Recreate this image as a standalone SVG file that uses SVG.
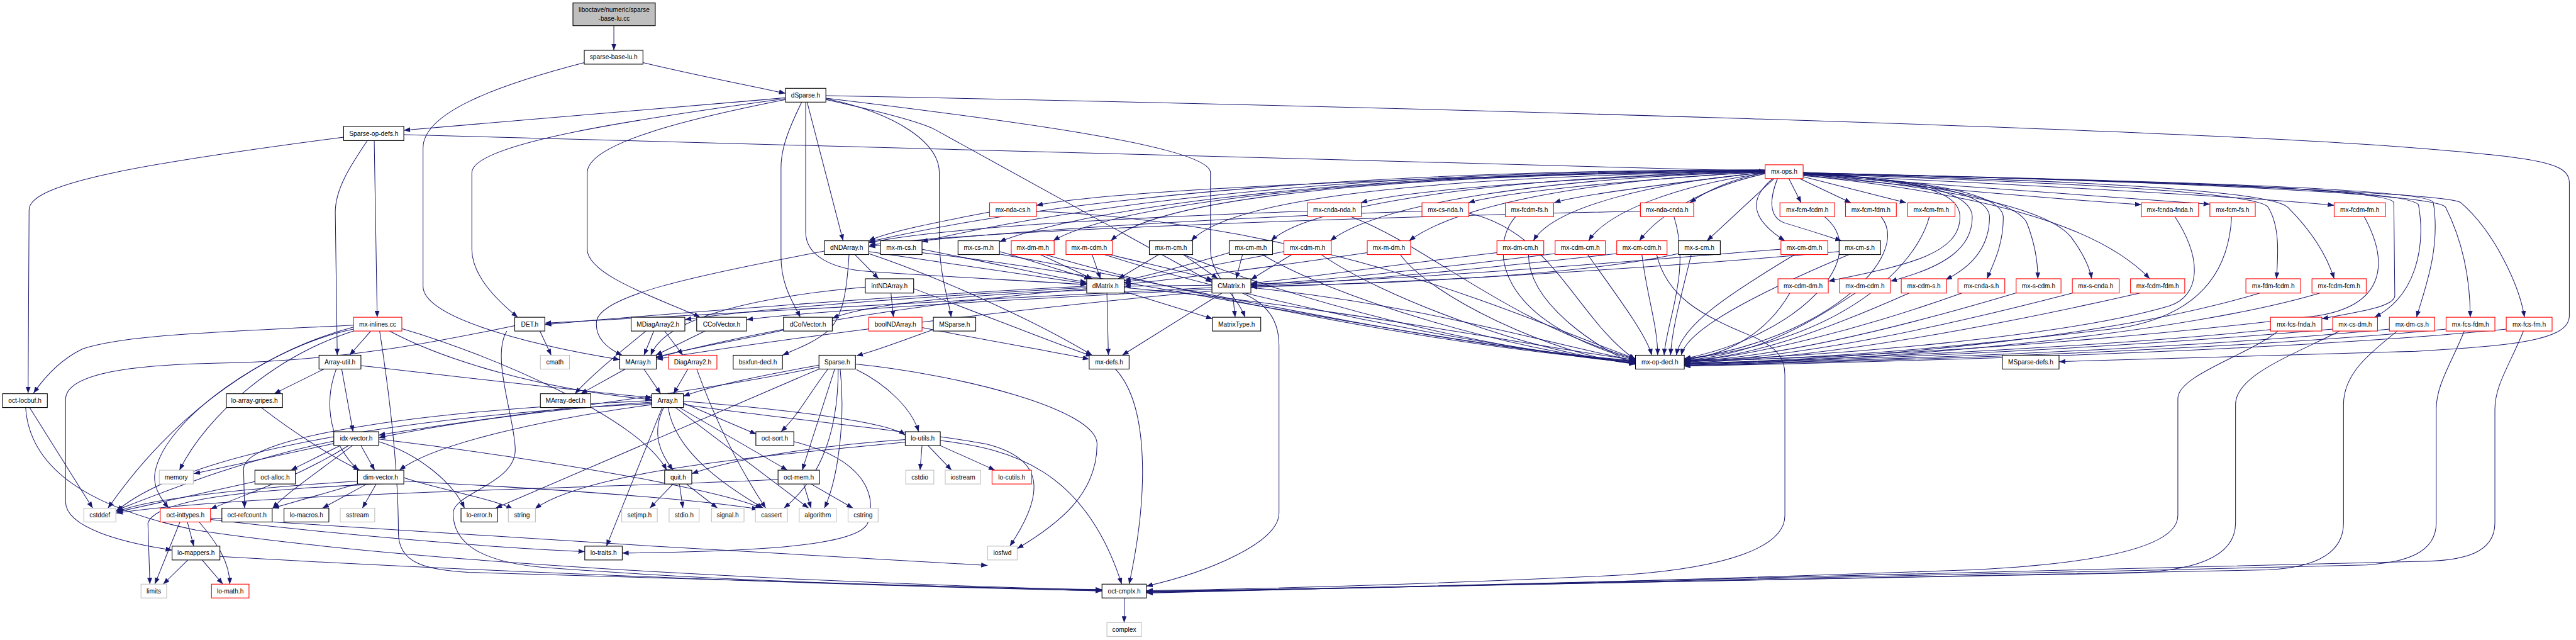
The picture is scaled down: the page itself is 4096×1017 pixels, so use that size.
<svg xmlns="http://www.w3.org/2000/svg" width="4096" height="1017" viewBox="0 0 4096 1017">
<defs>
<marker id="a" markerUnits="userSpaceOnUse" markerWidth="14" markerHeight="10" refX="13" refY="5" orient="auto"><path d="M0,0 L13,5 L0,10 z" fill="#191970"/></marker>
<style>
.n rect{fill:#fff;stroke:#000;stroke-width:1.4}
.r rect{fill:#fff;stroke:#ff0000;stroke-width:1.4}
.g rect{fill:#fff;stroke:#bfbfbf;stroke-width:1.4}
.root rect{fill:#bfbfbf;stroke:#000;stroke-width:1.4}
text{font-family:"Liberation Sans",Arial,sans-serif;font-size:13px;text-anchor:middle;fill:#000}
#edges path{fill:none;stroke:#191970;stroke-width:1.3;marker-end:url(#a)}
</style>
</defs>
<rect width="4096" height="1017" fill="#fff"/>
<g transform="scale(0.784)">
<g id="edges">
<path d="M1245,52 L1245,102"/>
<path d="M1304,127 C1400,150 1500,170 1593,189"/>
<path d="M1185,127 C1000,175 858,230 858,300 L858,580 C858,640 1050,695 1257,729"/>
<path d="M1593,198 C1300,225 1000,250 819,264"/>
<path d="M819,273 L3580,347"/>
<path d="M1675,194 C2800,215 4400,260 4900,300 C5150,320 5211,330 5211,370 L5211,640 C5211,690 5100,700 4900,712 L4176,733"/>
<path d="M1593,200 C1300,240 957,290 957,350 L957,505 C957,560 1010,610 1050,643"/>
<path d="M1593,202 C1400,240 1191,290 1191,350 L1191,505 C1191,560 1350,610 1420,643"/>
<path d="M1626,207 C1600,260 1584,300 1584,340 L1584,520 C1584,580 1610,615 1623,643"/>
<path d="M1637,207 L1710,488"/>
<path d="M1634,207 L1634,470 C1634,520 1690,545 1760,550 C1900,560 2100,570 2204,577"/>
<path d="M1675,202 C1780,225 1860,245 1895,262 L2458,572"/>
<path d="M1675,200 C1820,230 1905,290 1905,350 L1905,480 C1905,560 1925,610 1929,643"/>
<path d="M1675,199 C2100,250 2455,300 2455,350 L2455,505 C2455,560 2510,600 2525,643"/>
<path d="M697,278 C300,330 59,370 59,425 L57,797"/>
<path d="M745,285 C715,330 680,380 680,430 L684,720"/>
<path d="M759,285 L765,643"/>
<path d="M717,659 C400,675 250,680 168,707 C120,730 90,765 68,797"/>
<path d="M717,663 C500,720 330,870 219,1030"/>
<path d="M717,667 C550,700 330,850 314,960 C310,990 330,1015 342,1030"/>
<path d="M720,670 C560,720 420,840 364,953"/>
<path d="M752,671 L709,720"/>
<path d="M770,671 C790,800 808,950 808,1080 C808,1140 860,1155 950,1160 C1500,1180 2000,1190 2235,1198"/>
<path d="M790,671 C900,730 1100,790 1322,810"/>
<path d="M815,666 C1000,720 1300,850 1352,953"/>
<path d="M657,748 L556,798"/>
<path d="M682,748 C655,820 670,900 727,953"/>
<path d="M693,748 L716,875"/>
<path d="M732,741 C900,760 1150,790 1322,806"/>
<path d="M530,826 C600,880 680,930 730,953"/>
<path d="M60,826 L188,1030"/>
<path d="M52,826 C60,950 180,1030 400,1075 C900,1150 1800,1185 2235,1196"/>
<path d="M1095,671 L1118,720"/>
<path d="M1044,660 C900,690 700,732 443,736 C250,740 133,760 133,810 L133,1017 C133,1070 250,1100 349,1115"/>
<path d="M1028,671 C995,724 1045,850 1045,912 C1045,980 919,1000 919,1040 C919,1100 972,1138 1100,1150 C1500,1180 1900,1190 2235,1195"/>
<path d="M1348,671 L1385,720"/>
<path d="M1326,671 L1306,720"/>
<path d="M1310,671 C1250,720 1200,760 1166,798"/>
<path d="M1430,671 L1330,720"/>
<path d="M1589,669 C1500,690 1400,705 1331,724"/>
<path d="M1306,748 L1340,798"/>
<path d="M1268,748 L1178,798"/>
<path d="M1395,748 L1366,798"/>
<path d="M1413,748 C1450,850 1500,950 1553,1030"/>
<path d="M1661,740 C1550,760 1450,780 1386,803"/>
<path d="M1679,748 C1640,800 1620,840 1584,875"/>
<path d="M1693,748 L1627,953"/>
<path d="M1704,748 C1715,850 1700,970 1672,1030"/>
<path d="M1700,748 C1700,900 1650,980 1590,1030"/>
<path d="M1661,748 L1005,1030"/>
<path d="M1737,749 C1800,780 1850,830 1863,875"/>
<path d="M1735,738 C1950,760 2225,830 2225,900 C2225,1000 2150,1060 2063,1112"/>
<path d="M1661,744 C1400,800 950,850 768,882"/>
<path d="M1893,668 C1830,690 1780,710 1737,721"/>
<path d="M1386,817 L1534,880"/>
<path d="M1346,826 C1320,880 1340,920 1365,953"/>
<path d="M1378,826 L1597,953"/>
<path d="M1343,826 L1230,1107"/>
<path d="M1355,826 C1370,920 1480,990 1548,1030"/>
<path d="M1370,826 L1640,1030"/>
<path d="M1386,813 C1600,830 1800,855 1836,882"/>
<path d="M1386,820 C1600,850 1900,880 2000,900 C2120,930 2120,1000 2048,1107"/>
<path d="M1322,815 C1100,830 900,860 768,887"/>
<path d="M1322,820 C1100,850 880,900 810,953"/>
<path d="M1322,818 C900,840 400,900 236,1036"/>
<path d="M1322,812 C900,830 494,880 494,950 L496,1030"/>
<path d="M1610,895 C1750,930 1780,1000 1760,1060 C1740,1110 1500,1118 1262,1121"/>
<path d="M1365,981 L1318,1030"/>
<path d="M1378,981 L1385,1030"/>
<path d="M1392,981 L1455,1030"/>
<path d="M1630,981 L1645,1030"/>
<path d="M1645,981 L1730,1030"/>
<path d="M1578,972 C1200,990 500,1000 236,1040"/>
<path d="M1870,903 L1866,953"/>
<path d="M1882,903 L1930,953"/>
<path d="M1900,900 L2018,953"/>
<path d="M1907,893 C2050,910 2200,950 2275,1184"/>
<path d="M1836,891 C1700,900 1500,925 1403,960"/>
<path d="M1836,896 C1600,920 1200,950 1085,1031"/>
<path d="M2262,748 C2330,820 2330,1000 2290,1184"/>
<path d="M2280,1212 L2280,1262"/>
<path d="M677,899 L393,960"/>
<path d="M690,903 L590,953"/>
<path d="M732,903 L760,953"/>
<path d="M707,903 C600,970 500,1000 427,1032"/>
<path d="M715,903 C640,960 580,1000 553,1030"/>
<path d="M677,894 C500,930 350,990 236,1034"/>
<path d="M768,895 C850,920 920,980 942,1030"/>
<path d="M768,890 C1100,930 1450,990 1545,1030"/>
<path d="M725,975 C500,990 300,1010 236,1038"/>
<path d="M724,981 L553,1030"/>
<path d="M744,981 L654,1030"/>
<path d="M763,981 L735,1030"/>
<path d="M819,978 C600,990 320,1000 300,1060 L304,1184"/>
<path d="M819,968 C880,990 1000,1010 1040,1032"/>
<path d="M819,975 C1100,990 1400,1010 1538,1032"/>
<path d="M517,976 L236,1038"/>
<path d="M380,1058 L393,1107"/>
<path d="M365,1058 L314,1184"/>
<path d="M404,1058 C440,1100 466,1140 466,1184"/>
<path d="M427,1053 C700,1085 1000,1110 1186,1118"/>
<path d="M427,1050 C900,1080 1500,1120 2003,1146"/>
<path d="M381,1135 L331,1184"/>
<path d="M410,1135 L452,1184"/>
<path d="M446,1128 C1000,1160 1800,1190 2235,1197"/>
<path d="M1734,516 L1782,565"/>
<path d="M1762,510 C1900,530 2100,560 2204,575"/>
<path d="M1672,509 C1400,560 1220,600 1210,650 C1205,690 1240,710 1262,720"/>
<path d="M1762,514 C1900,560 2100,650 2215,720"/>
<path d="M1722,516 C1718,580 1712,640 1680,670 C1650,695 1620,705 1587,720"/>
<path d="M1807,594 L1812,643"/>
<path d="M1755,582 C1550,600 1350,640 1320,720"/>
<path d="M1853,585 C2000,640 2150,700 2215,722"/>
<path d="M1870,664 C2000,690 2150,715 2209,728"/>
<path d="M2245,594 L2248,720"/>
<path d="M2280,591 L2459,646"/>
<path d="M2204,580 C1800,600 1300,640 1105,658"/>
<path d="M2204,585 C1800,620 1500,680 1331,725"/>
<path d="M2280,583 C2700,620 3100,700 3317,730"/>
<path d="M2204,588 C1900,600 1750,620 1688,645"/>
<path d="M2204,583 C1800,605 1500,630 1389,648"/>
<path d="M2478,594 L2276,720"/>
<path d="M2500,594 L2505,643"/>
<path d="M2458,583 C2000,605 1400,640 1105,655"/>
<path d="M2458,586 C2000,610 1650,630 1514,648"/>
<path d="M2458,590 C2000,630 1500,700 1331,728"/>
<path d="M2520,594 C2580,620 2594,660 2594,700 L2594,1040 C2594,1100 2450,1160 2325,1188"/>
<path d="M2537,583 C2900,620 3150,700 3317,731"/>
<path d="M2458,578 L2280,580"/>
<path d="M3580,350 C3500,365 3450,395 3427,411"/>
<path d="M3580,349 C3400,370 3200,395 3152,411"/>
<path d="M3580,348 C3300,365 3050,390 2978,411"/>
<path d="M3580,347 C3200,360 2850,385 2760,411"/>
<path d="M3580,346 C3000,355 2300,380 2102,416"/>
<path d="M3598,362 L3462,488"/>
<path d="M3580,352 C3450,380 3360,440 3325,488"/>
<path d="M3580,351 C3400,375 3260,430 3222,488"/>
<path d="M3580,350 C3350,370 3150,420 3110,488"/>
<path d="M3580,349 C3200,365 2950,420 2858,488"/>
<path d="M3580,348 C3150,360 2800,410 2698,488"/>
<path d="M3580,347 C3000,360 2650,420 2578,488"/>
<path d="M3580,347 C2900,358 2500,400 2416,488"/>
<path d="M3580,346 C2800,355 2350,400 2253,488"/>
<path d="M3580,346 C2700,352 2250,420 2136,488"/>
<path d="M3580,345 C2600,350 2150,440 2027,490"/>
<path d="M3580,345 C2500,345 2000,460 1869,490"/>
<path d="M3580,344 C2400,345 1900,460 1762,490"/>
<path d="M3628,362 L3653,411"/>
<path d="M3650,362 L3754,411"/>
<path d="M3657,358 L3866,411"/>
<path d="M3595,362 C3550,400 3545,440 3620,488"/>
<path d="M3605,362 C3590,400 3585,440 3620,452 C3680,470 3710,480 3735,488"/>
<path d="M3657,352 C3900,370 4080,400 4110,450 C4130,500 4133,540 4133,565"/>
<path d="M3657,353 C3950,380 4150,420 4200,480 C4230,520 4240,550 4242,565"/>
<path d="M3657,352 C3900,365 4060,390 4063,440 C4063,500 4040,540 4030,565"/>
<path d="M3657,351 C3900,365 4035,390 4035,440 C4035,500 4000,540 3946,567"/>
<path d="M3657,350 C3900,365 4000,390 4000,440 C4000,500 3950,540 3834,570"/>
<path d="M3657,349 C3880,365 3975,385 3975,440 C3975,520 3850,540 3708,570"/>
<path d="M3657,355 C4000,390 4200,405 4343,415"/>
<path d="M3657,354 C4000,380 4300,400 4482,414"/>
<path d="M3657,353 C4100,375 4500,395 4734,416"/>
<path d="M3657,356 C4000,390 4250,450 4360,565"/>
<path d="M3657,352 C4200,370 4580,390 4600,420 C4625,460 4620,520 4617,565"/>
<path d="M3657,352 C4200,365 4600,385 4640,420 C4690,470 4720,520 4734,565"/>
<path d="M3657,351 C4300,365 4840,380 4855,410 L4857,600 C4855,620 4800,630 4709,646"/>
<path d="M3657,351 C4300,365 4880,380 4905,415 C4920,500 4900,600 4816,643"/>
<path d="M3657,350 C4300,365 4920,380 4935,410 C4950,500 4920,580 4901,643"/>
<path d="M3657,350 C4300,365 4940,390 4960,420 C5000,500 5010,580 5010,643"/>
<path d="M3657,350 C4300,365 4950,390 4990,410 C5060,470 5110,580 5120,643"/>
<path d="M2102,428 C2700,455 3100,650 3317,727"/>
<path d="M2740,439 C2900,500 3050,650 3317,728"/>
<path d="M2979,432 C3150,470 3200,650 3317,729"/>
<path d="M3074,439 C3020,500 3030,650 3317,730"/>
<path d="M1869,512 C2300,560 2900,700 3317,731"/>
<path d="M2027,515 C2400,580 2900,700 3317,732"/>
<path d="M2120,516 C2400,600 2950,705 3317,733"/>
<path d="M2240,516 C2500,600 3000,705 3317,734"/>
<path d="M2400,516 C2600,600 3000,710 3317,735"/>
<path d="M2560,516 C2700,600 3050,710 3317,736"/>
<path d="M2680,516 C2800,600 3100,715 3317,737"/>
<path d="M2840,516 C2900,600 3150,720 3317,738"/>
<path d="M3100,516 C3100,620 3250,710 3317,739"/>
<path d="M3220,516 C3280,600 3340,680 3350,720"/>
<path d="M3330,516 C3340,600 3362,660 3362,720"/>
<path d="M3395,439 C3430,550 3380,650 3375,720"/>
<path d="M3430,516 C3410,600 3392,660 3388,720"/>
<path d="M3640,516 C3500,600 3410,660 3400,720"/>
<path d="M3750,516 C3550,600 3420,670 3410,720"/>
<path d="M3630,594 C3580,680 3500,720 3416,729"/>
<path d="M3763,594 C3650,670 3550,720 3416,730"/>
<path d="M3872,594 C3700,670 3550,725 3416,731"/>
<path d="M3979,594 C3780,665 3550,725 3416,732"/>
<path d="M4088,594 C3850,665 3600,725 3416,733"/>
<path d="M4203,594 C3930,665 3650,725 3416,734"/>
<path d="M4340,594 C4050,660 3700,728 3416,735"/>
<path d="M4583,594 C4300,680 3800,730 3416,736"/>
<path d="M4705,594 C4450,670 3900,730 3416,737"/>
<path d="M4605,668 C4300,700 3800,725 3416,738"/>
<path d="M4731,667 C4300,705 3800,728 3416,739"/>
<path d="M4846,667 C4400,710 3800,730 3416,740"/>
<path d="M4961,667 C4500,712 3800,732 3416,741"/>
<path d="M5083,667 C4600,715 3800,734 3416,742"/>
<path d="M3700,439 C3800,520 3650,680 3416,727"/>
<path d="M3815,439 C3880,520 3700,690 3416,728"/>
<path d="M3913,439 C3890,530 3750,690 3416,728"/>
<path d="M4411,439 C4470,530 4460,600 4400,620 C4200,680 3700,725 3416,730"/>
<path d="M4526,439 C4520,560 4450,640 4300,665 C4000,700 3700,730 3416,731"/>
<path d="M4795,439 C4850,540 4830,620 4700,640 C4300,690 3800,725 3416,732"/>
<path d="M1869,505 C2000,530 2150,565 2204,572"/>
<path d="M2027,510 C2100,530 2170,555 2212,565"/>
<path d="M2110,516 L2215,565"/>
<path d="M2215,516 L2232,565"/>
<path d="M2250,516 C2350,540 2420,555 2460,568"/>
<path d="M2350,516 L2268,565"/>
<path d="M2400,516 L2470,565"/>
<path d="M2520,516 L2507,565"/>
<path d="M2493,512 C2400,540 2320,560 2280,569"/>
<path d="M2604,510 C2450,540 2330,562 2280,573"/>
<path d="M2620,516 C2580,540 2555,555 2537,567"/>
<path d="M2773,512 C2550,545 2350,570 2280,576"/>
<path d="M3036,512 C2800,540 2600,570 2537,574"/>
<path d="M3154,514 C2900,545 2650,572 2537,577"/>
<path d="M3279,514 C3000,545 2700,575 2537,579"/>
<path d="M3404,514 C3200,560 2800,576 2537,580"/>
<path d="M3730,510 C3400,540 2900,572 2537,582"/>
<path d="M3612,505 C3300,530 2900,565 2537,576"/>
<path d="M2007,430 C1900,450 1800,470 1762,488"/>
<path d="M2652,428 C2300,440 1900,462 1762,492"/>
<path d="M3327,428 C2800,440 2000,465 1762,497"/>
<path d="M2884,428 C2500,440 2000,470 1762,500"/>
<path d="M4620,671 C4560,720 4417,760 4417,808 L4417,1045 C4417,1100 4300,1140 4000,1155 C3300,1180 2700,1195 2325,1198"/>
<path d="M4745,671 C4650,720 4534,760 4534,820 L4534,1060 C4534,1130 4450,1160 4300,1162 C3500,1180 2700,1195 2325,1199"/>
<path d="M4862,671 C4800,720 4753,760 4753,820 L4753,1060 C4753,1120 4700,1150 4600,1155 C3600,1180 2700,1195 2325,1200"/>
<path d="M4998,671 C4970,740 4941,780 4941,830 L4941,1060 C4941,1120 4880,1140 4800,1145 C3800,1170 2700,1195 2325,1201"/>
<path d="M5118,671 C5090,740 5060,780 5060,830 L5060,1060 C5060,1120 5000,1138 4900,1138 C3800,1165 2700,1195 2325,1202"/>
<path d="M3360,516 C3380,600 3450,640 3550,680 C3610,705 3620,730 3620,760 L3620,1045 C3620,1110 3500,1150 3300,1165 C2900,1185 2500,1195 2325,1197"/>
</g>
<g id="n-root" class="root"><rect x="1162" y="6" width="167" height="46"/><text x="1245.5" y="24">liboctave/numeric/sparse</text><text x="1245.5" y="42">-base-lu.cc</text></g>
<g id="n-sparse-base-lu-h" class="n"><rect x="1185" y="102" width="119" height="28"/><text x="1244.5" y="120.5">sparse-base-lu.h</text></g>
<g id="n-dSparse-h" class="n"><rect x="1593" y="179" width="82" height="28"/><text x="1634" y="197.5">dSparse.h</text></g>
<g id="n-Sparse-op-defs-h" class="n"><rect x="697" y="256" width="122" height="29"/><text x="758" y="275">Sparse-op-defs.h</text></g>
<g id="n-mx-ops-h" class="r"><rect x="3580" y="334" width="77" height="28"/><text x="3618.5" y="352.5">mx-ops.h</text></g>
<g id="n-mx-nda-cs-h" class="r"><rect x="2007" y="411" width="95" height="28"/><text x="2054.5" y="429.5">mx-nda-cs.h</text></g>
<g id="n-mx-cnda-nda-h" class="r"><rect x="2652" y="411" width="109" height="28"/><text x="2706.5" y="429.5">mx-cnda-nda.h</text></g>
<g id="n-mx-cs-nda-h" class="r"><rect x="2884" y="411" width="95" height="28"/><text x="2931.5" y="429.5">mx-cs-nda.h</text></g>
<g id="n-mx-fcdm-fs-h" class="r"><rect x="3053" y="411" width="98" height="28"/><text x="3102" y="429.5">mx-fcdm-fs.h</text></g>
<g id="n-mx-nda-cnda-h" class="r"><rect x="3327" y="411" width="108" height="28"/><text x="3381" y="429.5">mx-nda-cnda.h</text></g>
<g id="n-mx-fcm-fcdm-h" class="r"><rect x="3610" y="411" width="111" height="28"/><text x="3665.5" y="429.5">mx-fcm-fcdm.h</text></g>
<g id="n-mx-fcm-fdm-h" class="r"><rect x="3743" y="411" width="103" height="28"/><text x="3794.5" y="429.5">mx-fcm-fdm.h</text></g>
<g id="n-mx-fcm-fm-h" class="r"><rect x="3869" y="411" width="96" height="28"/><text x="3917" y="429.5">mx-fcm-fm.h</text></g>
<g id="n-mx-fcnda-fnda-h" class="r"><rect x="4343" y="411" width="116" height="28"/><text x="4401" y="429.5">mx-fcnda-fnda.h</text></g>
<g id="n-mx-fcm-fs-h" class="r"><rect x="4482" y="411" width="92" height="28"/><text x="4528" y="429.5">mx-fcm-fs.h</text></g>
<g id="n-mx-fcdm-fm-h" class="r"><rect x="4734" y="411" width="104" height="28"/><text x="4786" y="429.5">mx-fcdm-fm.h</text></g>
<g id="n-dNDArray-h" class="n"><rect x="1672" y="488" width="90" height="28"/><text x="1717" y="506.5">dNDArray.h</text></g>
<g id="n-mx-m-cs-h" class="n"><rect x="1786" y="488" width="84" height="28"/><text x="1828" y="506.5">mx-m-cs.h</text></g>
<g id="n-mx-cs-m-h" class="n"><rect x="1943" y="488" width="84" height="28"/><text x="1985" y="506.5">mx-cs-m.h</text></g>
<g id="n-mx-dm-m-h" class="r"><rect x="2051" y="488" width="87" height="28"/><text x="2094.5" y="506.5">mx-dm-m.h</text></g>
<g id="n-mx-m-cdm-h" class="r"><rect x="2162" y="488" width="94" height="28"/><text x="2209" y="506.5">mx-m-cdm.h</text></g>
<g id="n-mx-m-cm-h" class="n"><rect x="2331" y="488" width="88" height="28"/><text x="2375" y="506.5">mx-m-cm.h</text></g>
<g id="n-mx-cm-m-h" class="n"><rect x="2493" y="488" width="88" height="28"/><text x="2537" y="506.5">mx-cm-m.h</text></g>
<g id="n-mx-cdm-m-h" class="r"><rect x="2604" y="488" width="96" height="28"/><text x="2652" y="506.5">mx-cdm-m.h</text></g>
<g id="n-mx-m-dm-h" class="r"><rect x="2773" y="488" width="88" height="28"/><text x="2817" y="506.5">mx-m-dm.h</text></g>
<g id="n-mx-dm-cm-h" class="r"><rect x="3036" y="488" width="95" height="28"/><text x="3083.5" y="506.5">mx-dm-cm.h</text></g>
<g id="n-mx-cdm-cm-h" class="r"><rect x="3154" y="488" width="102" height="28"/><text x="3205" y="506.5">mx-cdm-cm.h</text></g>
<g id="n-mx-cm-cdm-h" class="r"><rect x="3279" y="488" width="102" height="28"/><text x="3330" y="506.5">mx-cm-cdm.h</text></g>
<g id="n-mx-s-cm-h" class="n"><rect x="3404" y="488" width="85" height="28"/><text x="3446.5" y="506.5">mx-s-cm.h</text></g>
<g id="n-mx-cm-dm-h" class="r"><rect x="3612" y="488" width="95" height="28"/><text x="3659.5" y="506.5">mx-cm-dm.h</text></g>
<g id="n-mx-cm-s-h" class="n"><rect x="3730" y="488" width="84" height="28"/><text x="3772" y="506.5">mx-cm-s.h</text></g>
<g id="n-intNDArray-h" class="n"><rect x="1755" y="565" width="98" height="29"/><text x="1804" y="584">intNDArray.h</text></g>
<g id="n-dMatrix-h" class="n"><rect x="2204" y="565" width="76" height="29"/><text x="2242" y="584">dMatrix.h</text></g>
<g id="n-CMatrix-h" class="n"><rect x="2458" y="565" width="79" height="29"/><text x="2497.5" y="584">CMatrix.h</text></g>
<g id="n-mx-cdm-dm-h" class="r"><rect x="3606" y="565" width="102" height="29"/><text x="3657" y="584">mx-cdm-dm.h</text></g>
<g id="n-mx-dm-cdm-h" class="r"><rect x="3731" y="565" width="103" height="29"/><text x="3782.5" y="584">mx-dm-cdm.h</text></g>
<g id="n-mx-cdm-s-h" class="r"><rect x="3856" y="565" width="92" height="29"/><text x="3902" y="584">mx-cdm-s.h</text></g>
<g id="n-mx-cnda-s-h" class="r"><rect x="3971" y="565" width="95" height="29"/><text x="4018.5" y="584">mx-cnda-s.h</text></g>
<g id="n-mx-s-cdm-h" class="r"><rect x="4089" y="565" width="91" height="29"/><text x="4134.5" y="584">mx-s-cdm.h</text></g>
<g id="n-mx-s-cnda-h" class="r"><rect x="4203" y="565" width="95" height="29"/><text x="4250.5" y="584">mx-s-cnda.h</text></g>
<g id="n-mx-fcdm-fdm-h" class="r"><rect x="4321" y="565" width="110" height="29"/><text x="4376" y="584">mx-fcdm-fdm.h</text></g>
<g id="n-mx-fdm-fcdm-h" class="r"><rect x="4555" y="565" width="111" height="29"/><text x="4610.5" y="584">mx-fdm-fcdm.h</text></g>
<g id="n-mx-fcdm-fcm-h" class="r"><rect x="4689" y="565" width="110" height="29"/><text x="4744" y="584">mx-fcdm-fcm.h</text></g>
<g id="n-mx-inlines-cc" class="r"><rect x="717" y="643" width="98" height="28"/><text x="766" y="661.5">mx-inlines.cc</text></g>
<g id="n-DET-h" class="n"><rect x="1044" y="643" width="61" height="28"/><text x="1074.5" y="661.5">DET.h</text></g>
<g id="n-MDiagArray2-h" class="n"><rect x="1280" y="643" width="109" height="28"/><text x="1334.5" y="661.5">MDiagArray2.h</text></g>
<g id="n-CColVector-h" class="n"><rect x="1413" y="643" width="101" height="28"/><text x="1463.5" y="661.5">CColVector.h</text></g>
<g id="n-dColVector-h" class="n"><rect x="1589" y="643" width="99" height="28"/><text x="1638.5" y="661.5">dColVector.h</text></g>
<g id="n-boolNDArray-h" class="r"><rect x="1762" y="643" width="108" height="28"/><text x="1816" y="661.5">boolNDArray.h</text></g>
<g id="n-MSparse-h" class="n"><rect x="1893" y="643" width="86" height="28"/><text x="1936" y="661.5">MSparse.h</text></g>
<g id="n-MatrixType-h" class="n"><rect x="2459" y="643" width="98" height="28"/><text x="2508" y="661.5">MatrixType.h</text></g>
<g id="n-mx-fcs-fnda-h" class="r"><rect x="4605" y="643" width="104" height="28"/><text x="4657" y="661.5">mx-fcs-fnda.h</text></g>
<g id="n-mx-cs-dm-h" class="r"><rect x="4731" y="643" width="91" height="28"/><text x="4776.5" y="661.5">mx-cs-dm.h</text></g>
<g id="n-mx-dm-cs-h" class="r"><rect x="4846" y="643" width="92" height="28"/><text x="4892" y="661.5">mx-dm-cs.h</text></g>
<g id="n-mx-fcs-fdm-h" class="r"><rect x="4961" y="643" width="99" height="28"/><text x="5010.5" y="661.5">mx-fcs-fdm.h</text></g>
<g id="n-mx-fcs-fm-h" class="r"><rect x="5083" y="643" width="93" height="28"/><text x="5129.5" y="661.5">mx-fcs-fm.h</text></g>
<g id="n-Array-util-h" class="n"><rect x="647" y="720" width="85" height="28"/><text x="689.5" y="738.5">Array-util.h</text></g>
<g id="n-cmath" class="g"><rect x="1096" y="720" width="59" height="28"/><text x="1125.5" y="738.5">cmath</text></g>
<g id="n-MArray-h" class="n"><rect x="1257" y="720" width="74" height="28"/><text x="1294" y="738.5">MArray.h</text></g>
<g id="n-DiagArray2-h" class="r"><rect x="1356" y="720" width="98" height="28"/><text x="1405" y="738.5">DiagArray2.h</text></g>
<g id="n-bsxfun-decl-h" class="n"><rect x="1487" y="720" width="100" height="28"/><text x="1537" y="738.5">bsxfun-decl.h</text></g>
<g id="n-Sparse-h" class="n"><rect x="1661" y="720" width="74" height="28"/><text x="1698" y="738.5">Sparse.h</text></g>
<g id="n-mx-defs-h" class="n"><rect x="2209" y="720" width="81" height="28"/><text x="2249.5" y="738.5">mx-defs.h</text></g>
<g id="n-mx-op-decl-h" class="n"><rect x="3317" y="720" width="99" height="28"/><text x="3366.5" y="738.5">mx-op-decl.h</text></g>
<g id="n-MSparse-defs-h" class="n"><rect x="4061" y="720" width="115" height="28"/><text x="4118.5" y="738.5">MSparse-defs.h</text></g>
<g id="n-oct-locbuf-h" class="n"><rect x="5" y="798" width="91" height="28"/><text x="50.5" y="816.5">oct-locbuf.h</text></g>
<g id="n-lo-array-gripes-h" class="n"><rect x="459" y="798" width="114" height="28"/><text x="516" y="816.5">lo-array-gripes.h</text></g>
<g id="n-MArray-decl-h" class="n"><rect x="1096" y="798" width="102" height="28"/><text x="1147" y="816.5">MArray-decl.h</text></g>
<g id="n-Array-h" class="n"><rect x="1322" y="798" width="64" height="28"/><text x="1354" y="816.5">Array.h</text></g>
<g id="n-idx-vector-h" class="n"><rect x="677" y="875" width="91" height="28"/><text x="722.5" y="893.5">idx-vector.h</text></g>
<g id="n-oct-sort-h" class="n"><rect x="1533" y="875" width="77" height="28"/><text x="1571.5" y="893.5">oct-sort.h</text></g>
<g id="n-lo-utils-h" class="n"><rect x="1836" y="875" width="71" height="28"/><text x="1871.5" y="893.5">lo-utils.h</text></g>
<g id="n-memory" class="g"><rect x="323" y="953" width="69" height="28"/><text x="357.5" y="971.5">memory</text></g>
<g id="n-oct-alloc-h" class="n"><rect x="517" y="953" width="82" height="28"/><text x="558" y="971.5">oct-alloc.h</text></g>
<g id="n-dim-vector-h" class="n"><rect x="725" y="953" width="94" height="28"/><text x="772" y="971.5">dim-vector.h</text></g>
<g id="n-quit-h" class="n"><rect x="1348" y="953" width="55" height="28"/><text x="1375.5" y="971.5">quit.h</text></g>
<g id="n-oct-mem-h" class="n"><rect x="1578" y="953" width="84" height="28"/><text x="1620" y="971.5">oct-mem.h</text></g>
<g id="n-cstdio" class="g"><rect x="1837" y="953" width="57" height="28"/><text x="1865.5" y="971.5">cstdio</text></g>
<g id="n-iostream" class="g"><rect x="1917" y="953" width="72" height="28"/><text x="1953" y="971.5">iostream</text></g>
<g id="n-lo-cutils-h" class="r"><rect x="2012" y="953" width="80" height="28"/><text x="2052" y="971.5">lo-cutils.h</text></g>
<g id="n-cstddef" class="g"><rect x="170" y="1030" width="65" height="28"/><text x="202.5" y="1048.5">cstddef</text></g>
<g id="n-oct-inttypes-h" class="r"><rect x="325" y="1030" width="102" height="28"/><text x="376" y="1048.5">oct-inttypes.h</text></g>
<g id="n-oct-refcount-h" class="n"><rect x="450" y="1030" width="102" height="28"/><text x="501" y="1048.5">oct-refcount.h</text></g>
<g id="n-lo-macros-h" class="n"><rect x="576" y="1030" width="91" height="28"/><text x="621.5" y="1048.5">lo-macros.h</text></g>
<g id="n-sstream" class="g"><rect x="690" y="1030" width="70" height="28"/><text x="725" y="1048.5">sstream</text></g>
<g id="n-lo-error-h" class="n"><rect x="935" y="1030" width="74" height="28"/><text x="972" y="1048.5">lo-error.h</text></g>
<g id="n-string" class="g"><rect x="1031" y="1030" width="55" height="28"/><text x="1058.5" y="1048.5">string</text></g>
<g id="n-setjmp-h" class="g"><rect x="1261" y="1030" width="72" height="28"/><text x="1297" y="1048.5">setjmp.h</text></g>
<g id="n-stdio-h" class="g"><rect x="1357" y="1030" width="61" height="28"/><text x="1387.5" y="1048.5">stdio.h</text></g>
<g id="n-signal-h" class="g"><rect x="1443" y="1030" width="66" height="28"/><text x="1476" y="1048.5">signal.h</text></g>
<g id="n-cassert" class="g"><rect x="1532" y="1030" width="65" height="28"/><text x="1564.5" y="1048.5">cassert</text></g>
<g id="n-algorithm" class="g"><rect x="1621" y="1030" width="75" height="28"/><text x="1658.5" y="1048.5">algorithm</text></g>
<g id="n-cstring" class="g"><rect x="1720" y="1030" width="61" height="28"/><text x="1750.5" y="1048.5">cstring</text></g>
<g id="n-lo-mappers-h" class="n"><rect x="349" y="1107" width="97" height="28"/><text x="397.5" y="1125.5">lo-mappers.h</text></g>
<g id="n-lo-traits-h" class="n"><rect x="1186" y="1107" width="76" height="28"/><text x="1224" y="1125.5">lo-traits.h</text></g>
<g id="n-iosfwd" class="g"><rect x="2003" y="1107" width="60" height="28"/><text x="2033" y="1125.5">iosfwd</text></g>
<g id="n-limits" class="g"><rect x="286" y="1184" width="52" height="28"/><text x="312" y="1202.5">limits</text></g>
<g id="n-lo-math-h" class="r"><rect x="429" y="1184" width="76" height="28"/><text x="467" y="1202.5">lo-math.h</text></g>
<g id="n-oct-cmplx-h" class="n"><rect x="2235" y="1184" width="90" height="28"/><text x="2280" y="1202.5">oct-cmplx.h</text></g>
<g id="n-complex" class="g"><rect x="2245" y="1262" width="70" height="28"/><text x="2280" y="1280.5">complex</text></g>
</g>
</svg>
